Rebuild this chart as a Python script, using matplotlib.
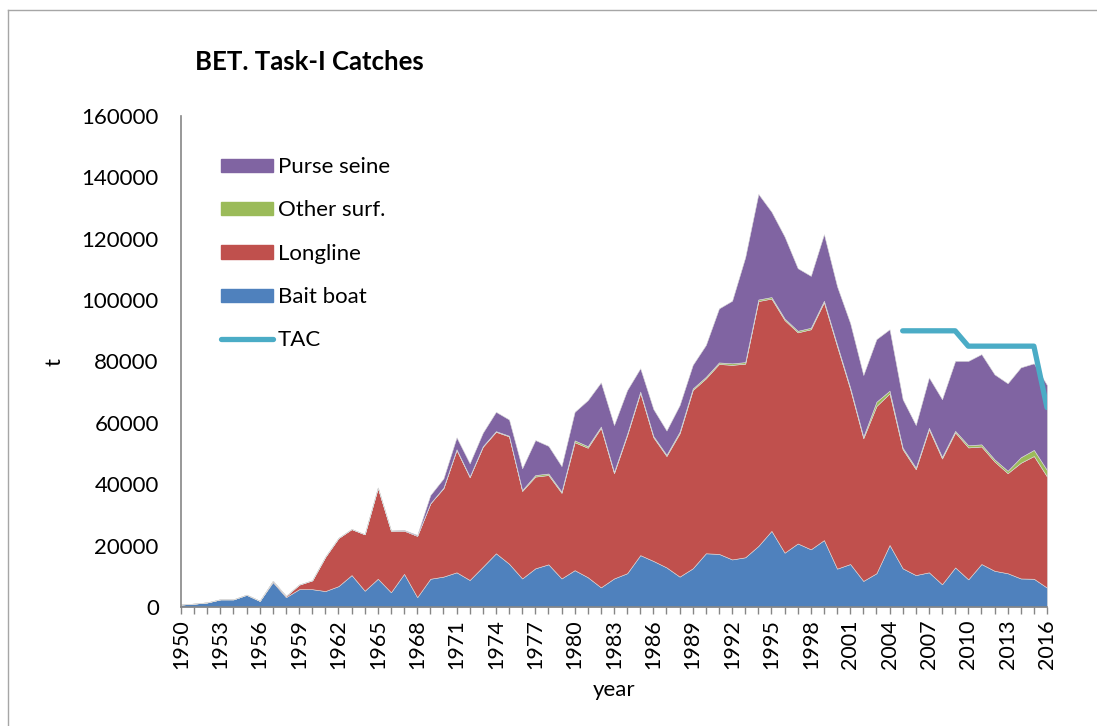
import numpy as np
import matplotlib
matplotlib.use('Agg')
import matplotlib.pyplot as plt
from matplotlib.patches import Patch
from matplotlib.lines import Line2D
from matplotlib.ticker import MultipleLocator

plt.rcParams['font.family'] = ['Lato', 'DejaVu Sans']

# ── Data (t) ──────────────────────────────────────────────────────────────────
years = np.arange(1950, 2017)

bait_boat = [800, 1100, 1500, 2500, 2500, 4000, 2000, 8100, 3200, 5800,
             5800, 5200, 6800, 10400, 5300, 9200, 4800, 10800, 3200, 9200,
             9900, 11300, 8800, 13100, 17500, 14100, 9300, 12600, 13900, 9300,
             12000, 9700, 6400, 9300, 11000, 16900, 15000, 12900, 9900, 12600,
             17500, 17300, 15500, 16200, 19900, 24800, 17700, 20700, 18800, 21800,
             12500, 14000, 8500, 11000, 20200, 12600, 10400, 11300, 7400, 12900,
             9000, 14000, 11800, 11000, 9300, 9200, 6300]

longline = [0, 0, 0, 0, 0, 0, 0, 400, 400, 1500,
            2900, 11200, 15700, 15000, 18400, 29700, 20100, 14100, 20000, 24600,
            28800, 39900, 33500, 39100, 39600, 41500, 28500, 29900, 29100, 27900,
            41700, 42200, 52000, 34300, 45000, 52900, 40300, 36300, 46700, 58100,
            57000, 61900, 63400, 63100, 79800, 75700, 75800, 68800, 71700, 77500,
            72500, 57000, 46500, 54500, 49400, 38800, 34500, 46600, 41000, 44000,
            43000, 38300, 35600, 32600, 37700, 40000, 36200]

other_surf = [0, 0, 0, 0, 0, 0, 0, 0, 0, 0,
              0, 0, 0, 0, 0, 0, 0, 0, 0, 0,
              200, 200, 200, 200, 200, 200, 300, 500, 500, 400,
              600, 500, 400, 400, 400, 400, 400, 400, 500, 500,
              500, 500, 500, 500, 500, 500, 500, 500, 500, 500,
              500, 500, 500, 1400, 900, 500, 500, 500, 500, 500,
              700, 700, 700, 800, 1800, 2000, 2100]

purse_seine = [0, 0, 0, 0, 0, 0, 0, 0, 0, 0,
               0, 0, 0, 0, 0, 0, 0, 200, 300, 2700,
               3000, 3900, 4300, 4400, 6300, 5300, 7100, 11400, 9000, 8300,
               9300, 15000, 14400, 15300, 14300, 7600, 8800, 7900, 8700, 7700,
               10400, 17600, 20400, 34200, 34400, 27800, 26700, 20400, 16900, 21700,
               19000, 21000, 20100, 20400, 20000, 15800, 13900, 16400, 18800, 22800,
               27500, 29400, 27700, 28500, 29300, 28200, 27700]

tac_years = np.arange(2005, 2017)
tac = [90000, 90000, 90000, 90000, 90000, 85000, 85000, 85000, 85000, 85000, 85000, 65000]

# ── Plot ──────────────────────────────────────────────────────────────────────
c_bb, c_ll, c_os, c_ps, c_tac = '#4F81BD', '#C0504D', '#9BBB59', '#8064A2', '#4BACC6'

fig = plt.figure(figsize=(10.97, 7.26), dpi=100)
ax = fig.add_axes([181 / 1097, 1 - 607 / 726, (1047 - 181) / 1097, (607 - 116) / 726])

ax.stackplot(years, bait_boat, longline, other_surf, purse_seine,
             colors=[c_bb, c_ll, c_os, c_ps], edgecolor='#d9d9d9', linewidth=0.4)
ax.plot(tac_years, tac, color=c_tac, lw=3.8, solid_capstyle='round', solid_joinstyle='round')

ax.set_xlim(1950, 2016)
ax.set_ylim(0, 160000)
ax.xaxis.set_major_locator(MultipleLocator(3))
ax.xaxis.set_minor_locator(MultipleLocator(1))
ax.yaxis.set_major_locator(MultipleLocator(20000))
ax.tick_params(axis='x', which='both', direction='out', length=5, width=1, color='#868686',
               labelsize=15.5, labelrotation=90, pad=4)
ax.tick_params(axis='y', length=0, labelsize=16, pad=16)
for s in ['top', 'right']:
    ax.spines[s].set_visible(False)
for s in ['left', 'bottom']:
    ax.spines[s].set_color('#868686')
    ax.spines[s].set_linewidth(1.2)

ax.set_xlabel('year', fontsize=16, labelpad=8)
ax.set_ylabel('t', fontsize=16, labelpad=12)

fig.text(195 / 1097, 1 - 62 / 726, 'BET. Task-I Catches', fontsize=18.5, fontweight='bold',
         va='center', ha='left')

handles = [Patch(color=c_ps), Patch(color=c_os), Patch(color=c_ll), Patch(color=c_bb),
           Line2D([0], [0], color=c_tac, lw=3.8, solid_capstyle='round')]
labels = ['Purse seine', 'Other surf.', 'Longline', 'Bait boat', 'TAC']
fig.legend(handles, labels, loc='upper left', bbox_to_anchor=(210 / 1097, 1 - 146 / 726),
           frameon=False, fontsize=16, handlelength=2.35, handleheight=0.55,
           handletextpad=0.2, labelspacing=1.05, borderpad=0)

# outer chart frame (left and top edges visible)
fig.add_artist(Line2D([8 / 1097, 8 / 1097], [0, 1 - 10 / 726], color='#a6a6a6', lw=1))
fig.add_artist(Line2D([8 / 1097, 1], [1 - 10 / 726, 1 - 10 / 726], color='#a6a6a6', lw=1))

fig.savefig('out.png', dpi=100)
